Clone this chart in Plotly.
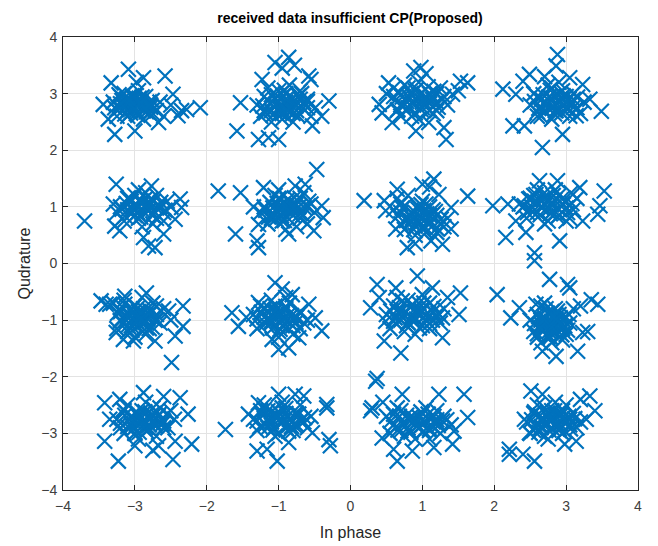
import plotly.graph_objects as go

# ---- data: received symbols, one list pair per constellation cluster ----
a_x = [-3.3,-3.2,-3.1,-3.0,-2.9,-2.8,-2.75,-3.25,-3.15,-3.05,-2.95,-2.85,-3.2,-3.1,-2.98,-2.88,-2.78,-3.0,-2.92,-3.12,-2.7,-2.65,-2.6,-3.28,
       -3.09,-2.58,-3.33,-2.88,-3.44,-3.37,-3.28,-3.0,-2.67,-2.47,-2.40,-2.28,-2.09,-2.98,-2.5,-2.35,
       -3.25,-3.18,-3.12,-3.06,-3.0,-2.94,-2.88,-2.82,-2.76,-3.22,-3.14,-3.08,-3.02,-2.96,-2.9,-2.84,-2.78,-3.16,-3.04,-2.92,-2.86,-3.1,-2.98,-2.8,-3.2]
a_y = [2.85,2.95,2.7,2.9,2.75,2.85,2.65,2.6,3.0,2.8,3.05,2.95,2.75,2.6,2.65,2.55,2.8,2.95,2.85,2.9,2.7,2.85,2.6,2.75,
       3.43,3.31,3.19,3.28,2.81,2.55,2.28,2.34,2.49,2.99,2.61,2.72,2.75,3.2,2.8,2.7,
       2.72,2.88,2.78,2.66,2.82,2.92,2.7,2.78,2.88,2.98,2.64,2.86,2.74,2.62,2.94,2.68,2.76,2.8,2.96,2.84,2.72,2.92,2.7,2.66,2.82]

b_x = [-1.3,-1.2,-1.1,-1.0,-0.9,-0.8,-0.7,-0.6,-1.25,-1.15,-1.05,-0.95,-0.85,-0.75,-0.65,-0.55,-1.0,-0.9,-0.8,-1.1,-0.7,-0.95,-1.2,-0.6,
       -0.86,-1.05,-0.95,-1.23,-0.58,-0.55,-1.53,-1.58,-1.28,-1.14,-1.0,-0.30,-0.53,-0.49,-0.78,-0.4,
       -1.22,-1.15,-1.08,-1.02,-0.96,-0.9,-0.84,-0.78,-0.72,-0.66,-0.6,-1.18,-1.1,-1.04,-0.98,-0.92,-0.86,-0.8,-0.74,-0.68,-1.0,-0.88,-0.76,-1.12,-0.94]
b_y = [2.8,2.95,2.7,3.05,2.85,2.65,2.9,2.75,2.6,3.1,2.9,2.55,3.15,2.7,2.85,2.6,2.75,3.0,2.5,2.5,3.05,2.65,2.7,2.9,
       3.64,3.55,3.45,3.25,3.31,3.25,2.84,2.34,2.19,2.22,2.19,2.87,2.43,2.75,3.5,2.6,
       2.78,2.88,2.62,2.96,2.74,2.9,2.68,2.82,2.96,2.74,2.86,2.66,2.98,2.8,2.66,3.06,2.76,2.92,2.62,3.0,2.86,2.7,2.78,2.84,2.96]

c_x = [0.6,0.7,0.8,0.9,1.0,1.1,1.2,1.3,0.65,0.75,0.85,0.95,1.05,1.15,1.25,1.35,0.9,1.0,0.8,1.1,0.7,1.2,0.95,0.6,
       0.98,0.88,1.05,0.53,1.53,1.63,0.40,0.44,0.58,0.91,1.33,1.30,1.09,1.42,1.5,0.5,
       0.62,0.68,0.74,0.8,0.86,0.92,0.98,1.04,1.1,1.16,1.22,1.28,0.66,0.72,0.78,0.84,0.9,0.96,1.02,1.08,1.14,1.2,0.88,1.0,1.12]
c_y = [2.95,2.8,3.1,2.9,2.75,3.0,2.85,2.95,2.7,3.15,2.6,3.2,2.95,2.65,3.1,2.8,3.05,2.85,2.75,2.7,2.6,3.0,2.55,3.1,
       3.46,3.4,3.35,3.19,3.22,3.19,2.81,2.66,2.49,2.34,2.19,2.4,2.49,2.99,3.05,3.0,
       2.88,3.02,2.78,2.96,2.84,3.08,2.72,2.92,2.82,3.04,2.76,2.9,2.72,2.94,2.86,3.0,2.66,2.98,2.8,3.12,2.9,2.7,2.8,2.88,2.98]

d_x = [2.5,2.6,2.7,2.8,2.9,3.0,3.1,3.2,2.55,2.65,2.75,2.85,2.95,3.05,3.15,3.25,2.8,2.9,3.0,2.7,2.6,3.1,2.85,2.95,
       2.88,2.86,2.49,2.40,2.12,2.30,2.26,2.42,2.67,2.95,3.14,3.49,3.33,3.05,3.23,2.7,
       2.56,2.62,2.68,2.74,2.8,2.86,2.92,2.98,3.04,3.1,3.16,2.6,2.66,2.72,2.78,2.84,2.9,2.96,3.02,3.08,2.82,2.88,2.94,2.76,3.0]
d_y = [2.8,2.95,2.7,3.1,2.85,2.75,2.9,2.65,3.0,2.6,3.15,2.8,3.05,2.6,2.75,2.85,2.55,3.2,2.95,2.85,2.6,3.0,2.7,2.9,
       3.69,3.49,3.34,3.22,3.08,2.99,2.43,2.43,2.05,2.28,2.61,2.69,2.9,3.28,3.16,3.3,
       2.86,2.74,2.98,2.82,2.92,2.7,3.02,2.8,2.9,2.76,2.94,2.68,2.9,2.78,3.06,2.64,2.88,2.96,2.72,2.84,2.78,2.98,2.66,2.94,2.86]

e_x = [-3.2,-3.1,-3.0,-2.9,-2.8,-2.7,-2.6,-2.5,-3.15,-3.05,-2.95,-2.85,-2.75,-2.65,-2.55,-3.25,-2.9,-2.8,-3.0,-2.7,-2.6,-3.1,-2.85,-2.75,
       -3.70,-3.26,-3.28,-3.21,-2.88,-2.72,-2.81,-2.6,-2.44,-2.37,-2.35,-2.77,-2.95,-3.3,
       -3.18,-3.12,-3.06,-3.0,-2.94,-2.88,-2.82,-2.76,-2.7,-2.64,-2.58,-3.14,-3.08,-3.02,-2.96,-2.9,-2.84,-2.78,-2.72,-2.66,-2.92,-2.8,-2.86,-2.98,-2.74]
e_y = [1.0,1.15,0.85,1.05,0.95,1.2,0.9,1.0,0.75,1.1,0.8,1.25,0.7,1.0,1.1,0.9,0.65,1.05,1.2,0.8,0.75,0.95,1.15,0.85,
       0.75,1.40,0.66,0.58,0.46,0.28,0.31,0.52,0.78,1.14,0.99,1.37,1.3,1.05,
       0.96,1.06,0.88,1.0,1.12,0.92,1.04,0.86,0.98,1.08,0.94,0.84,1.16,0.96,0.9,1.1,0.98,1.14,0.9,1.02,0.82,0.94,1.02,1.04,1.1]

f_x = [-1.2,-1.1,-1.0,-0.9,-0.8,-0.7,-0.6,-0.5,-1.15,-1.05,-0.95,-0.85,-0.75,-0.65,-0.55,-1.25,-0.9,-0.8,-1.0,-0.7,-1.1,-0.6,-0.85,-0.95,
       -0.47,-1.84,-1.53,-1.6,-1.28,-1.3,-1.28,-1.21,-0.77,-0.40,-0.38,-0.51,-0.86,-0.63,-1.35,
       -1.18,-1.12,-1.06,-1.0,-0.94,-0.88,-0.82,-0.76,-0.7,-0.64,-0.58,-1.14,-1.08,-1.02,-0.96,-0.9,-0.84,-0.78,-0.72,-0.66,-0.92,-0.86,-0.8,-0.98,-1.04]
f_y = [1.0,0.85,1.15,0.95,1.05,0.8,1.0,0.9,0.7,1.2,0.75,1.1,0.65,1.25,1.05,0.9,0.6,0.85,1.3,1.15,0.8,0.7,1.0,0.9,
       1.66,1.28,1.25,0.52,0.28,0.4,0.69,1.34,1.37,1.02,0.81,0.58,0.52,1.40,1.0,
       0.94,1.08,0.86,1.0,0.9,1.12,0.96,1.04,0.88,0.98,1.1,0.82,0.98,1.06,0.84,1.02,0.92,1.16,1.0,0.86,0.76,0.94,0.98,1.14,0.78]

g_x = [0.6,0.7,0.8,0.9,1.0,1.1,1.2,1.3,0.65,0.75,0.85,0.95,1.05,1.15,1.25,1.35,0.9,1.0,0.8,1.1,0.7,1.2,0.95,1.05,
       0.19,0.47,0.65,1.0,1.16,1.63,1.40,1.23,0.63,0.79,1.12,1.28,1.40,0.49,0.9,1.1,
       0.66,0.72,0.78,0.84,0.9,0.96,1.02,1.08,1.14,1.2,1.26,0.7,0.76,0.82,0.88,0.94,1.0,1.06,1.12,1.18,0.92,0.98,1.04,0.86,1.1]
g_y = [0.95,1.05,0.8,0.9,1.1,0.7,0.85,0.65,1.15,0.6,0.75,1.0,0.55,0.95,0.7,0.8,0.5,0.65,1.2,0.85,0.9,0.55,0.75,1.05,
       1.11,1.11,1.31,1.40,1.49,1.19,0.99,1.22,0.61,0.28,0.40,0.34,0.61,0.93,0.35,1.35,
       0.84,0.98,0.76,0.9,0.66,0.82,0.94,0.72,0.86,0.62,0.78,0.7,1.02,0.86,0.6,0.96,0.8,0.88,0.74,0.92,0.72,1.04,0.64,0.8,1.0]

h_x = [2.4,2.5,2.6,2.7,2.8,2.9,3.0,3.1,2.45,2.55,2.65,2.75,2.85,2.95,3.05,3.15,2.7,2.8,2.6,2.9,2.5,3.0,2.75,2.35,
       1.98,2.19,2.16,2.44,2.56,2.56,2.91,2.63,2.88,3.19,3.53,3.47,3.44,3.23,3.07,2.3,
       2.42,2.48,2.54,2.6,2.66,2.72,2.78,2.84,2.9,2.96,3.02,3.08,2.46,2.52,2.58,2.64,2.7,2.76,2.82,2.88,2.94,3.0,2.68,2.8,2.56]
h_y = [1.0,1.15,0.9,1.25,1.05,0.85,1.1,0.95,0.8,1.2,1.0,0.75,1.3,1.05,0.8,1.15,0.7,0.9,1.3,1.2,0.95,0.75,1.1,1.05,
       1.02,1.05,0.46,0.55,0.19,0.05,0.4,1.46,1.46,1.34,1.28,1.02,0.87,0.75,1.25,0.75,
       1.02,1.14,0.92,1.08,0.98,1.18,0.88,1.12,0.96,1.04,0.9,1.06,0.9,1.0,1.22,0.86,1.06,0.96,1.2,0.82,1.14,0.98,1.14,1.04,1.1]

i_x = [-3.3,-3.2,-3.1,-3.0,-2.9,-2.8,-2.7,-2.6,-3.25,-3.15,-3.05,-2.95,-2.85,-2.75,-2.65,-3.0,-2.9,-3.1,-2.8,-3.2,-2.7,-2.95,-3.05,-2.85,
       -3.47,-3.4,-2.84,-3.14,-2.33,-2.53,-2.33,-2.44,-2.72,-3.16,-3.02,-2.49,-3.26,-3.35,-2.5,
       -3.24,-3.18,-3.12,-3.06,-3.0,-2.94,-2.88,-2.82,-2.76,-2.7,-3.2,-3.14,-3.08,-3.02,-2.96,-2.9,-2.84,-2.78,-2.72,-3.04,-2.92,-2.86,-3.1,-2.98,-2.8]
i_y = [-0.7,-0.85,-0.95,-0.75,-1.05,-0.9,-1.0,-0.8,-1.15,-0.65,-1.1,-0.85,-1.25,-0.7,-1.05,-1.3,-0.6,-1.2,-1.15,-1.0,-0.75,-0.95,-0.8,-0.9,
       -0.66,-0.72,-0.52,-0.58,-0.75,-0.84,-1.11,-1.28,-1.37,-1.34,-1.37,-1.75,-1.22,-0.72,-1.0,
       -0.88,-0.76,-1.0,-0.84,-0.94,-1.08,-0.8,-0.98,-1.12,-0.9,-1.02,-0.72,-0.92,-1.06,-0.78,-0.96,-1.14,-0.86,-1.0,-1.18,-0.88,-1.04,-1.1,-1.02,-0.82]

j_x = [-1.35,-1.25,-1.15,-1.05,-0.95,-0.85,-0.75,-0.65,-1.3,-1.2,-1.1,-1.0,-0.9,-0.8,-0.7,-0.6,-1.0,-0.9,-1.1,-0.8,-1.2,-0.7,-0.95,-1.05,
       -1.05,-1.65,-1.56,-1.28,-0.81,-0.58,-0.40,-0.49,-1.0,-0.86,-1.09,-0.72,-0.95,-1.45,
       -1.3,-1.24,-1.18,-1.12,-1.06,-1.0,-0.94,-0.88,-0.82,-0.76,-0.7,-1.26,-1.2,-1.14,-1.08,-1.02,-0.96,-0.9,-0.84,-0.78,-1.04,-0.92,-0.98,-1.1,-0.86]
j_y = [-0.9,-0.75,-1.0,-0.85,-1.1,-0.7,-0.95,-1.05,-1.15,-0.95,-0.65,-1.2,-0.8,-1.25,-0.85,-1.0,-1.3,-0.6,-1.05,-1.1,-0.8,-1.15,-0.9,-0.75,
       -0.34,-0.87,-1.11,-0.69,-0.55,-0.72,-1.19,-0.96,-1.52,-1.49,-1.34,-1.31,-0.45,-0.95,
       -0.98,-0.86,-1.06,-0.8,-0.94,-1.02,-0.86,-1.12,-0.92,-1.04,-0.88,-1.1,-0.78,-0.96,-1.14,-0.88,-1.0,-0.76,-1.06,-0.94,-0.82,-0.98,-1.16,-1.02,-0.9]

k_x = [0.5,0.6,0.7,0.8,0.9,1.0,1.1,1.2,1.3,0.55,0.65,0.75,0.85,0.95,1.05,1.15,1.25,0.9,1.0,0.8,0.7,1.1,0.95,0.85,
       0.93,0.37,0.63,1.53,2.04,0.28,0.49,0.47,0.70,1.28,1.51,0.37,1.14,1.35,0.4,
       0.56,0.62,0.68,0.74,0.8,0.86,0.92,0.98,1.04,1.1,1.16,1.22,1.28,0.6,0.66,0.72,0.78,0.84,0.9,0.96,1.02,1.08,1.14,0.88,1.0]
k_y = [-0.9,-0.75,-1.0,-0.65,-0.85,-1.1,-0.7,-0.95,-0.8,-1.15,-0.6,-1.2,-0.95,-0.7,-1.0,-0.85,-1.05,-1.25,-0.55,-1.05,-0.85,-1.15,-0.9,-0.75,
       -0.22,-0.37,-0.43,-0.52,-0.55,-0.78,-1.02,-1.37,-1.58,-1.31,-0.9,-2.03,-0.43,-0.6,-0.6,
       -0.84,-0.96,-0.78,-0.9,-1.04,-0.72,-0.98,-0.82,-0.92,-1.06,-0.76,-0.88,-0.96,-1.02,-0.86,-0.66,-1.1,-0.94,-0.8,-1.14,-0.7,-0.88,-1.0,-1.0,-0.84]

l_x = [2.5,2.6,2.7,2.8,2.9,3.0,3.1,2.55,2.65,2.75,2.85,2.95,3.05,2.7,2.8,2.9,2.6,3.0,2.75,2.85,2.65,2.95,2.8,2.7,
       2.77,3.02,2.35,2.23,2.58,3.35,3.44,3.23,3.3,3.16,2.86,2.67,2.65,3.05,3.2,
       2.56,2.62,2.68,2.74,2.8,2.86,2.92,2.98,3.04,2.6,2.66,2.72,2.78,2.84,2.9,2.96,3.02,2.7,2.76,2.82,2.88,2.94,2.64,2.8,2.86]
l_y = [-1.0,-0.9,-1.1,-0.85,-1.05,-0.95,-0.8,-1.2,-0.75,-1.3,-1.0,-1.15,-1.05,-0.7,-1.4,-0.9,-1.3,-1.25,-1.1,-0.8,-1.0,-1.35,-1.2,-0.95,
       -0.28,-0.37,-0.78,-0.96,-0.72,-0.64,-0.72,-1.22,-1.2,-1.55,-1.64,-1.55,-1.4,-0.43,-0.75,
       -1.06,-0.94,-1.16,-0.88,-1.02,-1.22,-0.96,-1.1,-0.9,-1.24,-1.08,-0.8,-1.3,-0.92,-1.14,-1.0,-1.18,-0.98,-1.2,-1.08,-0.84,-1.26,-1.14,-1.12,-0.98]

m_x = [-3.25,-3.15,-3.05,-2.95,-2.85,-2.75,-2.65,-2.55,-2.45,-3.2,-3.1,-3.0,-2.9,-2.8,-2.7,-2.6,-2.5,-2.85,-2.95,-2.75,-3.05,-2.65,-3.15,-2.8,
       -3.42,-3.21,-2.88,-2.37,-2.26,-2.21,-2.47,-3.23,-3.42,-3.0,-2.67,-2.44,-3.35,-2.6,-2.75,
       -3.2,-3.14,-3.08,-3.02,-2.96,-2.9,-2.84,-2.78,-2.72,-2.66,-2.6,-2.54,-3.16,-3.1,-3.04,-2.98,-2.92,-2.86,-2.8,-2.74,-2.68,-2.62,-2.88,-2.94,-2.76]
m_y = [-2.75,-2.6,-2.85,-2.7,-2.9,-2.55,-2.8,-2.65,-2.75,-2.9,-2.5,-3.0,-2.6,-2.75,-3.05,-2.9,-2.6,-2.45,-3.1,-2.7,-2.7,-2.55,-3.0,-2.85,
       -2.46,-2.4,-2.28,-2.37,-2.66,-3.19,-3.46,-3.49,-3.14,-3.22,-3.22,-3.14,-2.75,-2.35,-3.3,
       -2.82,-2.68,-2.76,-2.92,-2.64,-2.8,-2.96,-2.72,-2.86,-2.66,-2.78,-2.9,-2.58,-2.88,-2.7,-2.84,-2.74,-2.62,-2.92,-2.8,-2.7,-2.84,-2.78,-2.98,-2.66]

n_x = [-1.35,-1.25,-1.15,-1.05,-0.95,-0.85,-0.75,-0.65,-0.55,-1.3,-1.2,-1.1,-1.0,-0.9,-0.8,-0.7,-0.6,-0.95,-1.05,-0.85,-1.15,-0.75,-1.0,-0.9,
       -1.74,-1.42,-1.28,-1.0,-0.77,-0.65,-0.33,-0.30,-0.28,-0.53,-1.30,-1.16,-1.02,-0.86,-0.33,
       -1.3,-1.24,-1.18,-1.12,-1.06,-1.0,-0.94,-0.88,-0.82,-0.76,-0.7,-0.64,-1.26,-1.2,-1.14,-1.08,-1.02,-0.96,-0.9,-0.84,-0.78,-0.72,-0.98,-0.86,-1.1]
n_y = [-2.75,-2.6,-2.9,-2.7,-2.55,-2.85,-2.65,-2.8,-2.7,-2.95,-2.5,-2.8,-3.0,-2.65,-2.95,-2.5,-2.9,-2.45,-3.05,-2.75,-2.6,-2.85,-2.7,-2.9,
       -2.93,-2.66,-2.46,-2.31,-2.31,-2.34,-2.49,-3.11,-3.22,-2.99,-3.31,-3.28,-3.49,-3.16,-2.55,
       -2.78,-2.66,-2.84,-2.72,-2.9,-2.62,-2.8,-2.7,-2.88,-2.64,-2.78,-2.72,-2.88,-2.58,-2.76,-2.94,-2.68,-2.82,-2.56,-2.76,-2.86,-2.66,-2.74,-2.96,-2.62]

o_x = [0.5,0.6,0.7,0.8,0.9,1.0,1.1,1.2,1.3,1.4,0.55,0.65,0.75,0.85,0.95,1.05,1.15,1.25,0.9,1.0,0.8,1.1,0.7,1.2,
       0.35,0.30,0.28,0.72,1.23,1.58,1.63,1.44,1.42,1.16,0.65,0.60,0.44,0.86,0.45,
       0.56,0.62,0.68,0.74,0.8,0.86,0.92,0.98,1.04,1.1,1.16,1.22,1.28,1.34,0.6,0.66,0.72,0.78,0.84,0.9,0.96,1.02,1.08,1.14,1.2]
o_y = [-2.7,-2.85,-2.6,-2.9,-2.75,-2.65,-2.95,-2.8,-2.7,-2.85,-3.0,-2.55,-3.05,-2.7,-2.9,-2.55,-2.8,-3.0,-3.1,-2.85,-2.75,-3.1,-2.95,-2.6,
       -2.08,-2.55,-2.6,-2.31,-2.31,-2.31,-2.72,-2.96,-3.19,-3.25,-3.49,-3.28,-3.08,-3.31,-2.45,
       -2.78,-2.9,-2.7,-2.84,-2.96,-2.74,-2.88,-2.62,-2.8,-2.92,-2.7,-2.86,-2.78,-2.76,-2.66,-2.94,-2.82,-2.68,-2.98,-2.84,-2.72,-2.96,-2.66,-2.88,-2.76]

p_x = [2.45,2.55,2.65,2.75,2.85,2.95,3.05,3.15,2.5,2.6,2.7,2.8,2.9,3.0,3.1,3.2,2.75,2.85,2.65,2.95,2.55,3.05,2.8,2.7,
       2.51,2.67,2.21,2.21,2.40,2.56,3.33,3.28,3.14,2.98,2.42,2.49,3.2,3.4,
       2.52,2.58,2.64,2.7,2.76,2.82,2.88,2.94,3.0,3.06,3.12,2.56,2.62,2.68,2.74,2.8,2.86,2.92,2.98,3.04,2.78,2.84,2.9,2.66,2.96]
p_y = [-2.8,-2.65,-2.9,-2.7,-2.85,-2.6,-2.75,-2.9,-3.0,-2.5,-3.05,-2.6,-2.95,-2.5,-2.65,-2.8,-3.1,-2.45,-2.75,-3.0,-2.95,-2.85,-2.7,-2.55,
       -2.25,-2.31,-3.28,-3.37,-3.37,-3.49,-2.34,-2.75,-3.14,-3.19,-2.75,-2.99,-2.4,-2.6,
       -2.76,-2.88,-2.68,-2.82,-2.94,-2.72,-2.86,-2.66,-2.8,-2.92,-2.74,-2.62,-2.98,-2.78,-2.64,-2.9,-2.7,-2.84,-2.96,-2.7,-2.78,-2.6,-2.92,-2.88,-2.72]

clusters_x = [a_x, b_x, c_x, d_x, e_x, f_x, g_x, h_x, i_x, j_x, k_x, l_x, m_x, n_x, o_x, p_x]
clusters_y = [a_y, b_y, c_y, d_y, e_y, f_y, g_y, h_y, i_y, j_y, k_y, l_y, m_y, n_y, o_y, p_y]

tick_vals = [-4, -3, -2, -1, 0, 1, 2, 3, 4]

title_text = "received data insufficient CP(Proposed)"
x_label = "In phase"
y_label = "Qudrature"

xs = [v for c in clusters_x for v in c]
ys = [v for c in clusters_y for v in c]

FONT = "Liberation Sans, Arial, sans-serif"

fig = go.Figure()
fig.add_trace(go.Scatter(
    x=xs, y=ys, mode="markers",
    marker=dict(symbol="x-thin", size=15, color="#0072BD",
                line=dict(color="#0072BD", width=2.2)),
    showlegend=False,
))

axis_common = dict(
    range=[-4, 4], tickvals=tick_vals, ticks="inside", ticklen=5,
    tickcolor="#262626", showline=True, linecolor="#262626", linewidth=1,
    mirror="ticks", showgrid=True, gridcolor="#e3e3e3", gridwidth=1,
    zeroline=False, automargin=False,
    tickfont=dict(family=FONT, size=14, color="#404040"),
)

W, H = 650, 538
fig.update_layout(
    width=W, height=H,
    margin=dict(l=55, r=20, t=29, b=56),
    paper_bgcolor="white", plot_bgcolor="white",
    title=dict(text="<b>" + title_text + "</b>", x=342 / W, xanchor="center",
               y=1 - 10 / H, yanchor="middle",
               font=dict(family=FONT, size=14, color="#000000")),
    xaxis=dict(**axis_common, ticklabelstandoff=3,
               title=dict(text=x_label, standoff=14,
                          font=dict(family=FONT, size=16, color="#262626"))),
    yaxis=dict(**axis_common, ticklabelstandoff=2,
               title=dict(text=y_label, standoff=6,
                          font=dict(family=FONT, size=16, color="#262626"))),
)

fig.write_html("out.html")
